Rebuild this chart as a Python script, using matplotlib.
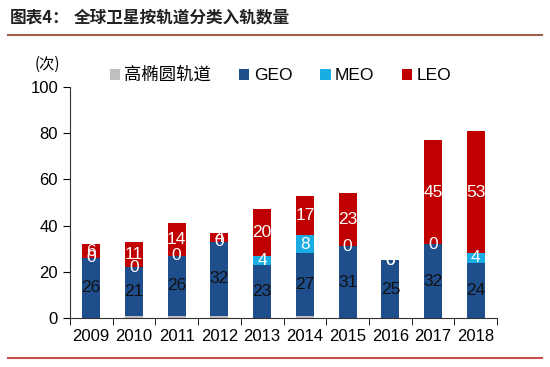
import matplotlib.pyplot as plt
import numpy as np

years = ["2009", "2010", "2011", "2012", "2013", "2014", "2015", "2016", "2017", "2018"]
heo = [0, 1, 1, 1, 0, 1, 0, 0, 0, 0]
geo = [26, 21, 26, 32, 23, 27, 31, 25, 32, 24]
meo = [0, 0, 0, 0, 4, 8, 0, 0, 0, 4]
leo = [6, 11, 14, 4, 20, 17, 23, 0, 45, 53]

series_names = ["高椭圆轨道", "GEO", "MEO", "LEO"]
colors = ["#BFBFBF", "#1F4E8C", "#1AADE4", "#C00000"]

plt.rcParams['font.family'] = ['Liberation Sans', 'Noto Sans CJK SC', 'DejaVu Sans']

fig = plt.figure(figsize=(5.5, 3.67), dpi=100)
ax = fig.add_axes([0.127, 0.1335, 0.777, 0.6295])

x = np.arange(len(years))
w = 0.42
bottom = np.zeros(len(years))
for vals, name, c in zip([heo, geo, meo, leo], series_names, colors):
    vals = np.array(vals)
    ax.bar(x, vals, w, bottom=bottom, color=c, label=name, zorder=2)
    if name != "高椭圆轨道":
        tc = "#111111" if name == "GEO" else "white"
        for xi, b, v in zip(x, bottom, vals):
            ax.text(xi, b + v / 2, str(v), ha="center", va="center",
                    fontsize=12.5, color=tc, zorder=3)
    bottom += vals

ax.set_xlim(-0.5, 9.5)
ax.set_ylim(0, 100)
ax.set_yticks(range(0, 101, 20))
ax.set_xticks(x)
ax.set_xticklabels(years)
ax.set_xticks(np.arange(-0.5, 10, 1), minor=True)
ax.tick_params(axis="x", which="major", length=0, labelsize=12, pad=8)
ax.tick_params(axis="x", which="minor", length=5, direction="out")
ax.tick_params(axis="y", length=5, direction="out", labelsize=12)
for s in ["top", "right"]:
    ax.spines[s].set_visible(False)
for s in ["left", "bottom"]:
    ax.spines[s].set_color("#333333")

ax.legend(loc="center", bbox_to_anchor=(0.493, 1.052), ncol=4, frameon=False,
          fontsize=12.5, handlelength=0.6, handleheight=0.6, handletextpad=0.25,
          columnspacing=1.6)

fig.text(0.087, 0.826, "(次)", fontsize=11, ha="center", va="center",
         family=['Noto Sans CJK SC', 'DejaVu Sans'])

fig.text(0.018, 0.953, "图表4：", fontsize=12, fontweight="bold", color="#222222",
         family=['Noto Sans CJK SC', 'DejaVu Sans'], va="center")
fig.text(0.135, 0.953, "全球卫星按轨道分类入轨数量", fontsize=12, fontweight="bold",
         color="#222222", family=['Noto Sans CJK SC', 'DejaVu Sans'], va="center")
fig.add_artist(plt.Line2D([0.015, 0.985], [0.905, 0.905], color="#A0604A", lw=1.5))
fig.add_artist(plt.Line2D([0.015, 0.985], [0.025, 0.025], color="#C8504A", lw=1.5))

fig.savefig("out.png", dpi=100)
